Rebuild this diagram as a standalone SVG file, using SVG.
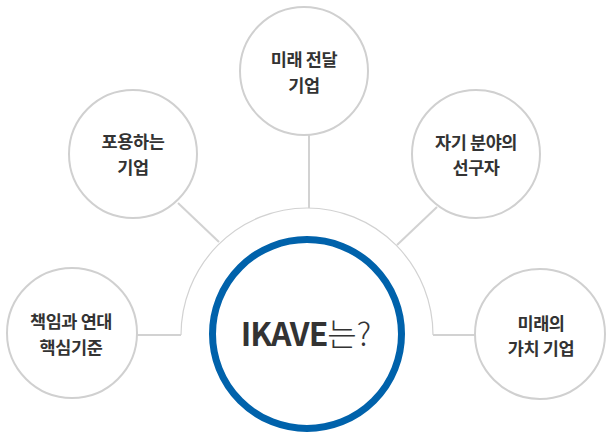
<svg xmlns="http://www.w3.org/2000/svg" width="613" height="439" viewBox="0 0 613 439">
<style>
.node{fill:#fff;stroke:#d0d0d0;stroke-width:2}
.lbl{font-family:"Noto Sans CJK KR","Noto Sans",sans-serif;font-size:17.5px;font-weight:bold;fill:#333;text-anchor:middle;letter-spacing:-0.4px}
.con{stroke:#d2d2d2;stroke-width:2;fill:none}
.arc{stroke:#d2d2d2;stroke-width:1.2;fill:none}
</style>
<rect width="613" height="439" fill="#fff"/>
<g id="connectors">
<path class="arc" d="M181,335 A126,127 0 0 1 433,335"/>
<line class="con" x1="137" y1="335" x2="181" y2="335"/>
<line class="con" x1="433" y1="335" x2="475" y2="335"/>
<line class="con" x1="309" y1="135" x2="309" y2="208"/>
<line class="con" x1="178" y1="203" x2="219" y2="242"/>
<line class="con" x1="437" y1="207" x2="397" y2="245"/>
</g>
<g id="center">
<circle cx="307" cy="334" r="94.5" fill="#fff" stroke="#0062ab" stroke-width="7"/>
<text x="306" y="346" font-family="'Noto Sans CJK KR','Noto Sans',sans-serif" font-size="32" fill="#333" text-anchor="middle"><tspan font-weight="bold" letter-spacing="-1">IKAVE</tspan><tspan font-weight="300">는?</tspan></text>
</g>
<g id="n-top">
<circle class="node" cx="304" cy="71" r="64"/>
<text class="lbl" x="304" y="66">미래 전달</text>
<text class="lbl" x="304" y="92">기업</text>
</g>
<g id="n-upleft">
<circle class="node" cx="133" cy="154" r="64"/>
<text class="lbl" x="133" y="148">포용하는</text>
<text class="lbl" x="133" y="174">기업</text>
</g>
<g id="n-upright">
<circle class="node" cx="476" cy="154" r="64"/>
<text class="lbl" x="476" y="149">자기 분야의</text>
<text class="lbl" x="476" y="174">선구자</text>
</g>
<g id="n-left">
<circle class="node" cx="72" cy="333" r="65"/>
<text class="lbl" x="71" y="328">책임과 연대</text>
<text class="lbl" x="71" y="354">핵심기준</text>
</g>
<g id="n-right">
<circle class="node" cx="540" cy="334" r="65"/>
<text class="lbl" x="541" y="330">미래의</text>
<text class="lbl" x="541" y="355">가치 기업</text>
</g>
</svg>
